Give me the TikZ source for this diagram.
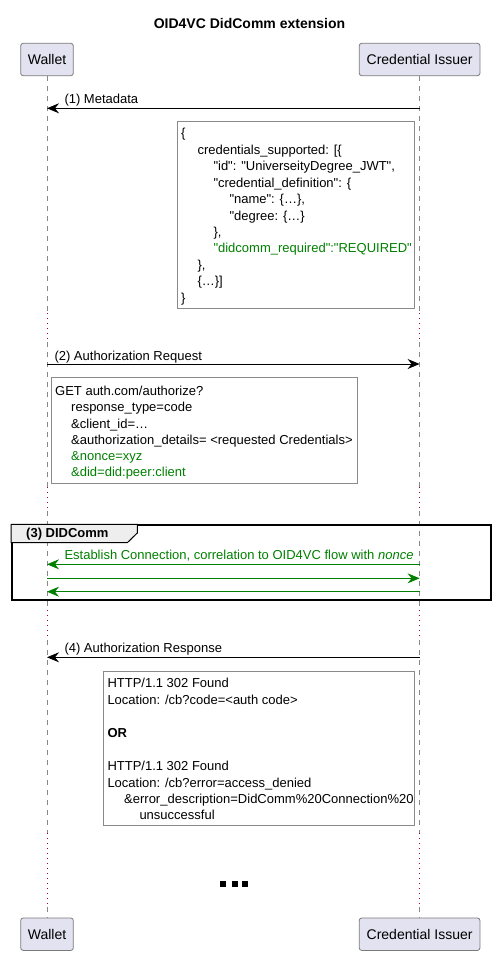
\documentclass[tikz,border=0pt]{standalone}
\usepackage{fontspec}
\setmainfont{Liberation Sans}[Ligatures=TeXOff]
\usetikzlibrary{arrows.meta}
\definecolor{partfill}{HTML}{E2E2F0}
\definecolor{partline}{HTML}{7A7A7A}
\definecolor{noteline}{HTML}{8A8A8A}
\definecolor{msggreen}{HTML}{008000}
\definecolor{delayred}{HTML}{A80036}
\definecolor{tabfill}{HTML}{EEEEEE}
\definecolor{lifegray}{HTML}{888888}
\begin{document}
\begin{tikzpicture}[x=1pt,y=-1pt,
 part/.style={draw=partline, fill=partfill, rounded corners=2.5pt, minimum height=32.4pt, inner sep=0pt, line width=0.8pt, font=\fontsize{14}{16}\selectfont},
 life/.style={draw=lifegray, dash pattern=on 5pt off 5pt, line width=0.7pt},
 delayline/.style={draw=delayred, dash pattern=on 1.2pt off 3.8pt, line width=1pt},
 msg/.style={draw=black, line width=0.9pt, -{Stealth[length=12pt,width=10pt,inset=4pt]}},
 gmsg/.style={msg, draw=msggreen, color=msggreen},
 lbl/.style={anchor=base west, inner sep=0pt, font=\fontsize{13}{15}\selectfont},
 note/.style={draw=noteline, fill=white, line width=0.8pt, anchor=north west, inner sep=0pt},
 ntxt/.style={anchor=base west, inner sep=0pt, font=\fontsize{13}{15}\selectfont},
 gtxt/.style={ntxt, text=msggreen},
]
\useasboundingbox (0,0) rectangle (495,955);

% title
\node[anchor=base, inner sep=0pt, font=\bfseries\fontsize{14}{16}\selectfont] (title) at (249.5,29) {OID4VC DidComm extension};

% participants
\node[part, minimum width=52.6pt] (wtop) at (47,59.5) {Wallet};
\node[part, minimum width=120.7pt] (itop) at (419.6,59.5) {Credential Issuer};
\node[part, minimum width=52.6pt] (wbot) at (47,934.2) {Wallet};
\node[part, minimum width=120.7pt] (ibot) at (419.6,934.2) {Credential Issuer};

% lifelines
\foreach \p/\q in {wtop/wbot, itop/ibot} {
  \draw[life] (\p.south) -- (\p.south |- 0,313);
  \draw[delayline] (\p.south |- 0,313) -- (\p.south |- 0,342);
  \draw[life] (\p.south |- 0,342) -- (\p.south |- 0,487);
  \draw[delayline] (\p.south |- 0,487) -- (\p.south |- 0,511);
  \draw[life] (\p.south |- 0,511) -- (\p.south |- 0,610);
  \draw[delayline] (\p.south |- 0,610) -- (\p.south |- 0,640);
  \draw[life] (\p.south |- 0,640) -- (\p.south |- 0,833);
  \draw[delayline] (\p.south |- 0,833) -- (\p.south |- 0,907);
  \draw[life] (\p.south |- 0,907) -- (\q.north);
}

% message coordinates
\coordinate (w1) at (wtop.south |- 0,108.3);
\coordinate (i1) at (itop.south |- 0,108.3);
\coordinate (w2) at (wtop.south |- 0,364);
\coordinate (i2) at (itop.south |- 0,364);
\coordinate (w3a) at (wtop.south |- 0,564.3);
\coordinate (i3a) at (itop.south |- 0,564.3);
\coordinate (w3b) at (wtop.south |- 0,578.3);
\coordinate (i3b) at (itop.south |- 0,578.3);
\coordinate (w3c) at (wtop.south |- 0,591.7);
\coordinate (i3c) at (itop.south |- 0,591.7);
\coordinate (w4) at (wtop.south |- 0,657.3);
\coordinate (i4) at (itop.south |- 0,657.3);

% (1) Metadata
\draw[msg] (i1) -- (w1);
\node[lbl] (l1) at (64.3,103.3) {(1) Metadata};

\node[note, minimum width=237pt, minimum height=186.7pt] (n1) at (177.3,121) {};
\node[ntxt] (n1a) at (181,138.0) {\{};
\node[ntxt] (n1b) at (197.3,154.4) {credentials\_supported: [\{};
\node[ntxt] (n1c) at (213.3,170.8) {"id": "UniverseityDegree\_JWT",};
\node[ntxt] (n1d) at (213.3,187.2) {"credential\_definition": \{};
\node[ntxt] (n1e) at (229.3,203.6) {"name": \{\dots\},};
\node[ntxt] (n1f) at (229.3,220.0) {"degree: \{\dots\}};
\node[ntxt] (n1g) at (213.3,236.4) {\},};
\node[gtxt] (n1h) at (213.3,252.8) {"didcomm\_required":"REQUIRED"};
\node[ntxt] (n1i) at (197.3,269.2) {\},};
\node[ntxt] (n1j) at (197.3,285.6) {\{\dots\}]};
\node[ntxt] (n1k) at (181,302.0) {\}};

% (2) Authorization Request
\draw[msg] (w2) -- (i2);
\node[lbl] (l2) at (54.3,360) {(2) Authorization Request};

\node[note, minimum width=306.3pt, minimum height=106pt] (n2) at (51,377.3) {};
\node[ntxt] (n2a) at (55,395.7) {GET auth.com/authorize?};
\node[ntxt] (n2b) at (71,411.9) {response\_type=code};
\node[ntxt] (n2c) at (71,428.1) {\&client\_id=\dots};
\node[ntxt] (n2d) at (71,444.3) {\&authorization\_details= <requested Credentials>};
\node[gtxt] (n2e) at (71,460.5) {\&nonce=xyz};
\node[gtxt] (n2f) at (71,476.7) {\&did=did:peer:client};

% (3) DIDComm group
\node[draw=black, line width=2pt, minimum width=478.7pt, minimum height=74.4pt, inner sep=0pt, anchor=north west] (grp) at (11,524.3) {};
\draw[fill=tabfill, draw=black, line width=1pt] (grp.north west) -- (137.3,524.3) -- (137.3,533) -- (127.5,542.5) -- (11,542.5) -- cycle;
\node[anchor=base west, inner sep=0pt, font=\bfseries\fontsize{13}{15}\selectfont] (gtitle) at (26,537.7) {(3) DIDComm};

\draw[gmsg] (i3a) -- (w3a);
\node[lbl, text=msggreen] (l3) at (64.3,559) {Establish Connection, correlation to OID4VC flow with \textit{nonce}};
\draw[gmsg] (w3b) -- (i3b);
\draw[gmsg] (i3c) -- (w3c);

% (4) Authorization Response
\draw[msg] (i4) -- (w4);
\node[lbl] (l4) at (64.3,652.7) {(4) Authorization Response};

\node[note, minimum width=311pt, minimum height=154.3pt] (n4) at (103.3,670.7) {};
\node[ntxt] (n4a) at (107.3,687.7) {HTTP/1.1 302 Found};
\node[ntxt] (n4b) at (107.3,704.0) {Location: /cb?code=<auth code>};
\node[ntxt, font=\bfseries\fontsize{13}{15}\selectfont] (n4c) at (107.3,737.9) {OR};
\node[ntxt] (n4d) at (107.3,770.6) {HTTP/1.1 302 Found};
\node[ntxt] (n4e) at (107.3,787.0) {Location: /cb?error=access\_denied};
\node[ntxt] (n4f) at (124,803.3) {\&error\_description=DidComm\%20Connection\%20};
\node[ntxt] (n4g) at (139.3,819.6) {unsuccessful};

% delay marker
\fill[black] (220,881) rectangle (226,886.7);
\fill[black] (231.7,881) rectangle (237.7,886.7);
\fill[black] (242.3,881) rectangle (248.3,886.7);
\end{tikzpicture}
\end{document}
